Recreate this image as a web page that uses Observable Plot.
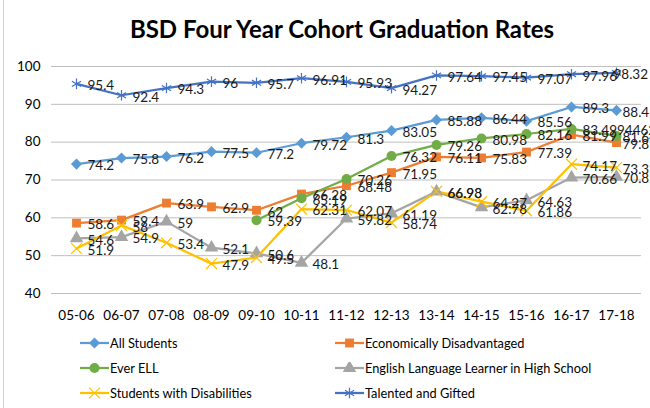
<!DOCTYPE html>
<html>
<head>
<meta charset="utf-8">
<script src="https://cdn.jsdelivr.net/npm/d3@7"></script>
<script src="https://cdn.jsdelivr.net/npm/@observablehq/plot@0.6"></script>
<style>
  html, body { margin: 0; padding: 0; background: #fff; }
  #wrap { position: relative; width: 650px; height: 408px; overflow: hidden; font-family: Lato, "Open Sans", sans-serif; }
  #border { position: absolute; left: 3px; top: -2px; width: 700px; height: 420px; border: 1px solid #d0d0d0; box-sizing: border-box; }
  #title { position: absolute; top: 14px; left: 34px; width: 616px; text-align: center; font-size: 24px; line-height: 30px; font-weight: bold; color: #000; }
  #chart { position: absolute; top: 50px; left: 0; }
  #legend { position: absolute; top: 330px; left: 80px; display: grid; grid-template-columns: 255px auto; grid-auto-rows: 25px; font-size: 12.8px; color: #000; }
  .item { display: flex; align-items: center; }
  .item svg { margin-right: 1px; }
</style>
</head>
<body>
<div id="wrap">
  <div id="border"></div>
  <div id="title">BSD Four Year Cohort Graduation Rates</div>
  <div id="chart"></div>
  <div id="legend"></div>
</div>
<script>
const years = ["05-06","06-07","07-08","08-09","09-10","10-11","11-12","12-13","13-14","14-15","15-16","16-17","17-18"];
const seriesNames = ["All Students","Economically Disadvantaged","Ever ELL","English Language Learner in High School","Students with Disabilities","Talented and Gifted"];
const seriesColors = ["#5B9BD5","#ED7D31","#70AD47","#A5A5A5","#FFC000","#4472C4"];
const seriesSymbols = ["diamond2","square","circle","triangle","times","asterisk"];
const allStudents = [74.2,75.8,76.2,77.5,77.2,79.72,81.3,83.05,85.88,86.44,85.56,89.3,88.4];
const econDisadvantaged = [58.6,59.4,63.9,62.9,62,66.28,68.48,71.95,76.11,75.83,77.39,81.99,79.89];
const everELL = [null,null,null,null,59.39,65.19,70.26,76.32,79.26,80.98,82.16,83.49944629,81.64];
const ellHighSchool = [54.6,54.9,59,52.1,50.6,48.1,59.82,61.19,66.93,62.78,64.63,70.66,70.82];
const studentsDisabilities = [51.9,58,53.4,47.9,49.5,62.31,62.07,58.74,66.98,64.27,61.86,74.17,73.3];
const talentedGifted = [95.4,92.4,94.3,96,95.7,96.91,95.93,94.27,97.64,97.45,97.07,97.96,98.32];
const yTicks = [40,50,60,70,80,90,100];

const seriesValues = [allStudents, econDisadvantaged, everELL, ellHighSchool, studentsDisabilities, talentedGifted];
const data = seriesNames.flatMap((name, i) =>
  seriesValues[i].map((v, j) => ({series: name, year: years[j], value: v})).filter(d => d.value != null)
);
const strokedSymbols = new Set(["times","asterisk"]);
const symOf = name => seriesSymbols[seriesNames.indexOf(name)];
const filled = data.filter(d => !strokedSymbols.has(symOf(d.series)));
const stroked = data.filter(d => strokedSymbols.has(symOf(d.series)));
const lastYear = years[years.length - 1];
const inner = data.filter(d => d.year !== lastYear);
const edge = data.filter(d => d.year === lastYear && d.series !== "Talented and Gifted");
const edgeTop = data.filter(d => d.year === lastYear && d.series === "Talented and Gifted");

const labelOpts = {x: "year", y: "value", text: d => String(d.value), dy: 2, textAnchor: "start", fontSize: 13.5, fill: "#1a1a1a"};

const chart = Plot.plot({
  width: 650,
  height: 280,
  marginLeft: 51,
  marginRight: 9,
  marginTop: 16,
  marginBottom: 37,
  style: {fontFamily: "Lato, 'Open Sans', sans-serif", background: "transparent", overflow: "visible"},
  x: {type: "point", domain: years, padding: 0.5, label: null},
  y: {domain: [40, 100], label: null},
  color: {domain: seriesNames, range: seriesColors},
  symbol: {domain: seriesNames, range: seriesSymbols},
  marks: [
    Plot.gridY(yTicks, {stroke: "#bfbfbf", strokeOpacity: 1, strokeWidth: 1}),
    Plot.axisY(yTicks, {tickSize: 0, tickPadding: 11, fontSize: 13.5, fill: "#000", label: null}),
    Plot.axisX({tickSize: 0, tickPadding: 17, fontSize: 13.5, fill: "#000", label: null}),
    Plot.line(data, {x: "year", y: "value", z: "series", stroke: "series", strokeWidth: 2.25}),
    Plot.dot(filled, {x: "year", y: "value", symbol: "series", fill: "series", r: 5}),
    Plot.dot(stroked, {x: "year", y: "value", symbol: "series", stroke: "series", r: 5, strokeWidth: 1.2}),
    Plot.text(inner, {...labelOpts, dx: 11}),
    Plot.text(edge, {...labelOpts, dx: 6}),
    Plot.text(edgeTop, {...labelOpts, dx: -3})
  ]
});
document.getElementById("chart").appendChild(chart);

// legend
const legend = d3.select("#legend");
const symMap = {diamond2: d3.symbolDiamond2, square: d3.symbolSquare, circle: d3.symbolCircle, triangle: d3.symbolTriangle, times: d3.symbolTimes, asterisk: d3.symbolAsterisk};
seriesNames.forEach((name, i) => {
  const item = legend.append("div").attr("class", "item");
  const svg = item.append("svg").attr("width", 29).attr("height", 12);
  svg.append("line").attr("x1", 0).attr("x2", 29).attr("y1", 6).attr("y2", 6)
    .attr("stroke", seriesColors[i]).attr("stroke-width", 2.25);
  const sym = seriesSymbols[i];
  const path = d3.symbol(symMap[sym], 5 * 5 * Math.PI)();
  const p = svg.append("path").attr("d", path).attr("transform", "translate(14.5,6)");
  if (strokedSymbols.has(sym)) p.attr("fill", "none").attr("stroke", seriesColors[i]).attr("stroke-width", 1.2);
  else p.attr("fill", seriesColors[i]);
  item.append("span").text(name);
});
</script>
</body>
</html>
